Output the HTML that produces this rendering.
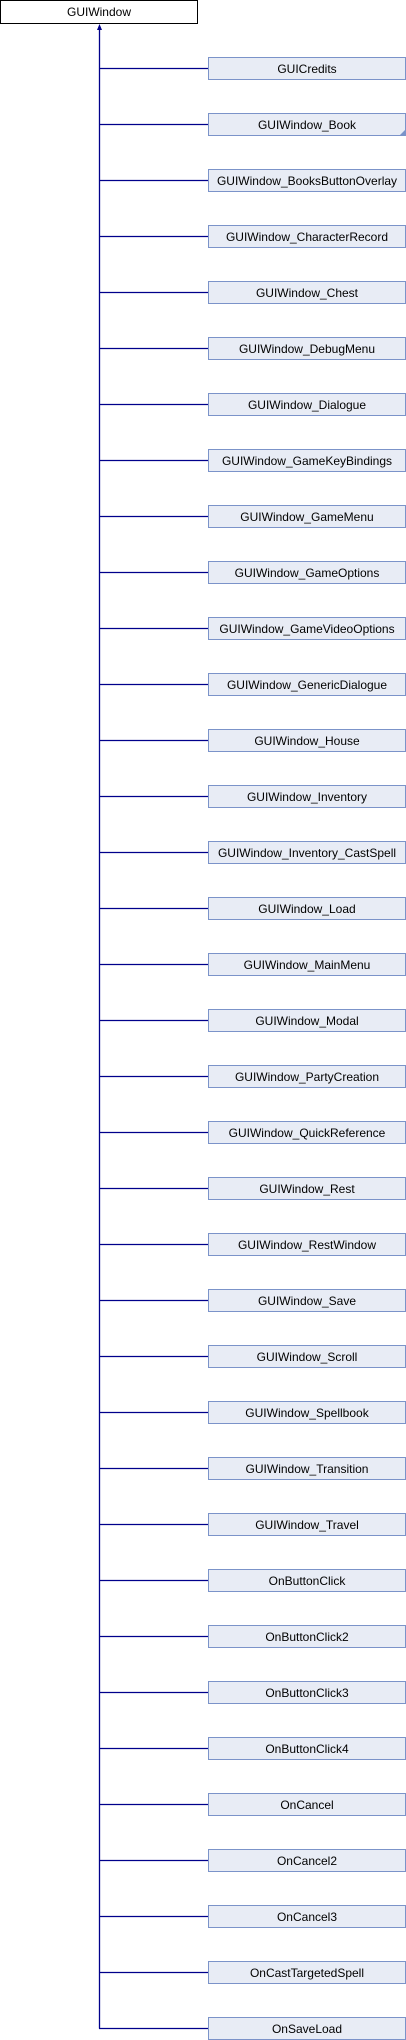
<!DOCTYPE html>
<html><head><meta charset="utf-8"><style>html,body{margin:0;padding:0;background:#fff;width:406px;height:2040px;overflow:hidden}</style></head><body>
<svg width="406" height="2040" xmlns="http://www.w3.org/2000/svg" font-family="Liberation Sans, sans-serif" font-size="12">
<rect x="0.5" y="0.5" width="197" height="23" fill="#fff" stroke="#000"/>
<text x="99" y="16" text-anchor="middle" fill="#000">GUIWindow</text>
<line x1="99.5" y1="28" x2="99.5" y2="2028.5" stroke="#00008b" stroke-width="1.3"/>
<polygon points="99.5,24 97,30 102,30" fill="#00008b"/>
<g id="items"></g>
</svg>
<script>
var n=["GUICredits","GUIWindow_Book","GUIWindow_BooksButtonOverlay","GUIWindow_CharacterRecord","GUIWindow_Chest","GUIWindow_DebugMenu","GUIWindow_Dialogue","GUIWindow_GameKeyBindings","GUIWindow_GameMenu","GUIWindow_GameOptions","GUIWindow_GameVideoOptions","GUIWindow_GenericDialogue","GUIWindow_House","GUIWindow_Inventory","GUIWindow_Inventory_CastSpell","GUIWindow_Load","GUIWindow_MainMenu","GUIWindow_Modal","GUIWindow_PartyCreation","GUIWindow_QuickReference","GUIWindow_Rest","GUIWindow_RestWindow","GUIWindow_Save","GUIWindow_Scroll","GUIWindow_Spellbook","GUIWindow_Transition","GUIWindow_Travel","OnButtonClick","OnButtonClick2","OnButtonClick3","OnButtonClick4","OnCancel","OnCancel2","OnCancel3","OnCastTargetedSpell","OnSaveLoad"];
var s="";
for(var i=0;i<n.length;i++){var y=57+56*i;
s+='<line x1="99" y1="'+(y+11.5)+'" x2="208" y2="'+(y+11.5)+'" stroke="#00008b" stroke-width="1.3"/>';
s+='<rect x="208.5" y="'+(y+0.5)+'" width="197" height="22" fill="#e8ecf5" stroke="#7b93c9"/>';
if(i==1)s+='<polygon points="405,'+(y+17)+' 405,'+(y+22)+' 400,'+(y+22)+'" fill="#7b93c9"/>';
s+='<text x="307" y="'+(y+16)+'" text-anchor="middle" fill="#000">'+n[i]+'</text>';}
document.getElementById("items").innerHTML=s;
</script>
</body></html>
